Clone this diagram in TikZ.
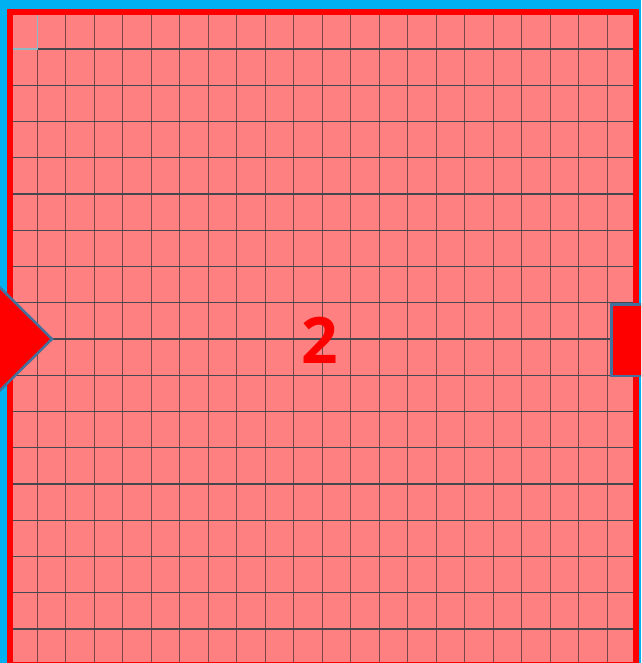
\documentclass[tikz,border=0pt]{standalone}
\usepackage{fontspec}
\setmainfont{Open Sans}
\definecolor{bgblue}{HTML}{00B0F0}
\definecolor{pinkfill}{HTML}{FF8080}
\definecolor{hgridc}{RGB}{70,72,80}
\definecolor{vgridc}{RGB}{120,70,72}
\definecolor{lightgrid}{RGB}{140,185,195}
\definecolor{shapeblue}{HTML}{41719C}
\tikzset{
  hgridline/.style={draw=hgridc, line width=1.2pt},
  vgridline/.style={draw=vgridc, line width=1.3pt},
  lightline/.style={draw=lightgrid, line width=1.6pt},
  redborder/.style={draw=red, line width=6pt},
  redshape/.style={fill=red, draw=shapeblue, line width=2.5pt},
  bignum/.style={text=red, font=\fontsize{64}{70}\selectfont\bfseries, inner sep=0pt}
}
\begin{document}
\begin{tikzpicture}[x=1pt,y=-1pt]
\useasboundingbox (0,0) rectangle (641,663);
\clip (0,0) rectangle (641,663);
\fill[bgblue] (0,0) rectangle (641,663);
\fill[pinkfill] (10,12) rectangle (635.5,664.5);
\foreach \i in {0,...,20} \draw[vgridline] ({37.3+28.5*\i},15) -- ({37.3+28.5*\i},663);
\foreach \j in {0,...,16} \draw[hgridline] (13,{49+36.25*\j}) -- (632.5,{49+36.25*\j});
\draw[lightline] (37.3,15) -- (37.3,49) -- (13,49);
\draw[redborder] (10,12) rectangle (635.5,664.5);
\draw[redshape] (-40,248) -- (52,339) -- (-40,430) -- cycle;
\draw[redshape] (611.5,304.5) rectangle (670,376);
\node[bignum] (two) at (319.5,340) {2};
\end{tikzpicture}
\end{document}
